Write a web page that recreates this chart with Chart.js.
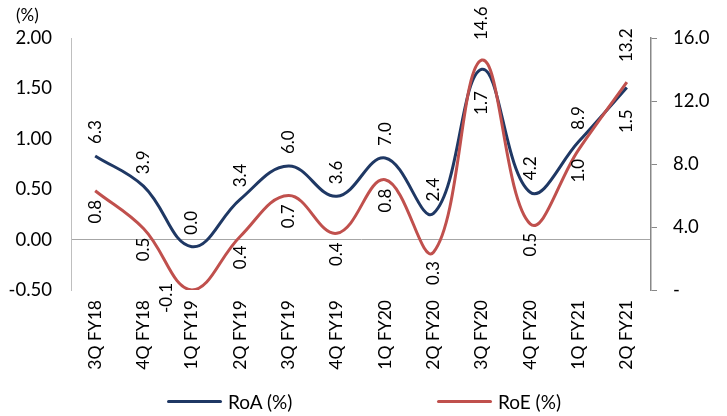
<!DOCTYPE html>
<html>
<head>
<meta charset="utf-8">
<script src="https://cdn.jsdelivr.net/npm/chart.js@4.4.1/dist/chart.umd.min.js"></script>
<style>
  body { margin: 0; background: #fff; }
  #wrap { position: relative; width: 727px; height: 416px; }
  .item { position: absolute; top: 390px; height: 22px; display: flex; align-items: center;
          font: 19px Lato, sans-serif; color: #000; white-space: nowrap; }
  .swatch { display: inline-block; width: 55px; height: 3px; margin-right: 6px; border-radius: 2px; }
</style>
</head>
<body>
<div id="wrap">
  <canvas id="myChart" width="727" height="416"></canvas>
</div>
<script>
const quarters = ["3Q FY18", "4Q FY18", "1Q FY19", "2Q FY19", "3Q FY19", "4Q FY19",
                  "1Q FY20", "2Q FY20", "3Q FY20", "4Q FY20", "1Q FY21", "2Q FY21"];
const roa = [0.83, 0.53, -0.07, 0.40, 0.73, 0.43, 0.81, 0.26, 1.69, 0.47, 0.97, 1.51];
const roe = [6.3, 3.9, 0.0, 3.4, 6.0, 3.6, 7.0, 2.4, 14.6, 4.2, 8.9, 13.2];
const roaTicks = [-0.5, 0, 0.5, 1.0, 1.5, 2.0];
const roeTicks = [0, 4, 8, 12, 16];

const navy = "#1f3864";
const red = "#c0504d";
const font = "Lato";

function vText(ctx, txt, x, y, align) {
  ctx.save();
  ctx.translate(x, y);
  ctx.rotate(-Math.PI / 2);
  ctx.textAlign = align;
  ctx.fillText(txt, 0, 0);
  ctx.restore();
}

// the source chart prints the RoE figure over the RoA line and vice versa
const crossLabels = {
  id: "crossLabels",
  afterDatasetsDraw(chart) {
    const ctx = chart.ctx;
    const area = chart.chartArea;
    const a = chart.getDatasetMeta(0).data;
    const e = chart.getDatasetMeta(1).data;
    ctx.save();
    ctx.font = "17px " + font;
    ctx.fillStyle = "#000";
    ctx.textBaseline = "middle";
    a.forEach((pt, i) => {
      let bottom = pt.y - 12;
      const other = e[i].y;
      if (other > pt.y - 30 && other < pt.y + 5) bottom = other - 20;   // keep clear of the red line
      vText(ctx, roe[i].toFixed(1), pt.x, bottom, "left");
    });
    e.forEach((pt, i) => {
      const txt = roa[i].toFixed(1);
      const w = ctx.measureText(txt).width;
      let top = pt.y + 9;
      const other = a[i].y;
      if (other > pt.y - 5 && other < pt.y + 30) top = other + 22;      // keep clear of the navy line
      if (top + w > area.bottom + 18) {
        // no room under the point: put it beside, left of the line
        vText(ctx, txt, pt.x - 25, pt.y + 8, "center");
      } else {
        vText(ctx, txt, pt.x, top, "right");
      }
    });
    // unit above the left axis
    const ys = chart.scales.y;
    ctx.textAlign = "left";
    ctx.fillText("(%)", ys.left + 16, area.top - 22);
    ctx.restore();
  }
};

const ctx = document.getElementById("myChart");
new Chart(ctx, {
  type: "line",
  data: {
    labels: quarters,
    datasets: [
      { label: "RoA (%)", data: roa, yAxisID: "y", borderColor: navy, backgroundColor: navy,
        borderWidth: 3, pointRadius: 0, tension: 0.4, order: 1 },
      { label: "RoE (%)", data: roe, yAxisID: "y1", borderColor: red, backgroundColor: red,
        borderWidth: 3, pointRadius: 0, tension: 0.4, order: 0 }
    ]
  },
  options: {
    responsive: false,
    animation: false,
    layout: { padding: { top: 38, left: 0, right: 0, bottom: 0 } },
    plugins: { legend: { display: false }, tooltip: { enabled: false } },
    scales: {
      x: {
        offset: true,
        grid: { display: false, drawTicks: false },
        border: { display: false },
        ticks: { minRotation: 90, maxRotation: 90, padding: 10, autoSkip: false,
                 color: "#000", font: { family: font, size: 17.5 } },
        afterFit(s) { s.height = 126; }
      },
      y: {
        position: "left",
        min: roaTicks[0], max: roaTicks[roaTicks.length - 1],
        afterBuildTicks(s) { s.ticks = roaTicks.map(v => ({ value: v })); },
        grid: { drawTicks: false, lineWidth: 1,
                color: c => c.tick && c.tick.value === 0 ? "#a6a6a6" : "rgba(0,0,0,0)" },
        border: { color: "#bfbfbf", width: 1 },
        ticks: { padding: 19, color: "#000", font: { family: font, size: 18.5 },
                 callback: v => v.toFixed(2) },
        afterFit(s) { s.width = 71; }
      },
      y1: {
        position: "right",
        min: roeTicks[0], max: roeTicks[roeTicks.length - 1],
        afterBuildTicks(s) { s.ticks = roeTicks.map(v => ({ value: v })); },
        grid: { drawOnChartArea: false, drawTicks: true, tickLength: 6, color: "#888" },
        border: { color: "#888", width: 1.5 },
        ticks: { padding: 16, color: "#000", font: { family: font, size: 18.5 },
                 callback: v => v === 0 ? "-" : v.toFixed(1) },
        afterFit(s) { s.width = 76; }
      }
    }
  },
  plugins: [crossLabels]
});

// legend outside the canvas so the wide gap between items can be kept
const wrap = document.getElementById("wrap");
[["RoA (%)", navy, 167], ["RoE (%)", red, 437]].forEach(([name, col, left]) => {
  wrap.insertAdjacentHTML("beforeend",
    `<span class="item" style="left:${left}px"><span class="swatch" style="background:${col}"></span>${name}</span>`);
});
</script>
</body>
</html>
